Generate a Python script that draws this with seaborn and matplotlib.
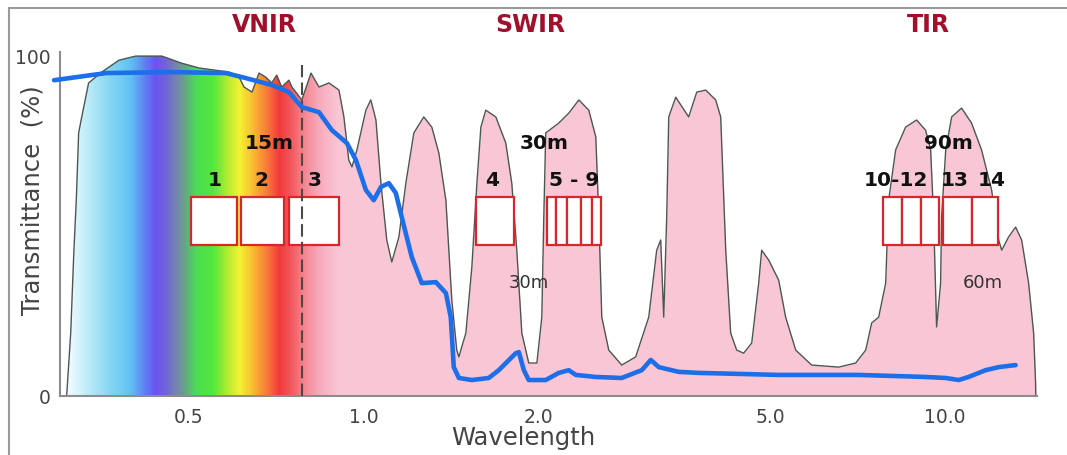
import numpy as np
import matplotlib
matplotlib.use("Agg")
import matplotlib.pyplot as plt
from matplotlib.colors import LinearSegmentedColormap
from matplotlib.patches import Rectangle
from matplotlib.lines import Line2D
import seaborn as sns

# atmospheric transmittance (wavelength in um, %)
trans_wl = [0.308, 0.313, 0.317, 0.320, 0.323, 0.327, 0.336, 0.354, 0.379, 0.405,
            0.449, 0.486, 0.520, 0.586, 0.610, 0.622, 0.642, 0.660, 0.678, 0.694,
            0.708, 0.722, 0.743, 0.752, 0.782, 0.811, 0.837, 0.871, 0.906, 0.924,
            0.942, 0.954, 0.973, 1.008, 1.028, 1.049, 1.070, 1.095, 1.117, 1.149,
            1.181, 1.219, 1.268, 1.309, 1.346, 1.384, 1.417, 1.445, 1.457, 1.498,
            1.534, 1.565, 1.590, 1.621, 1.687, 1.755, 1.797, 1.833, 1.870, 1.922,
            1.985, 2.024, 2.040, 2.056, 2.165, 2.252, 2.344, 2.438, 2.507, 2.537,
            2.567, 2.639, 2.778, 2.936, 3.092, 3.191, 3.242, 3.281, 3.320, 3.347,
            3.441, 3.622, 3.740, 3.875, 4.031, 4.112, 4.195, 4.278, 4.381, 4.504,
            4.650, 4.780, 4.837, 4.973, 5.174, 5.319, 5.536, 5.897, 6.563, 7.020,
            7.305, 7.480, 7.690, 7.906, 8.000, 8.225, 8.556, 8.938, 9.261, 9.448,
            9.560, 9.674, 9.828, 9.867, 10.03, 10.27, 10.68, 11.11, 11.56, 12.03,
            12.37, 12.52, 12.87, 13.23, 13.55, 13.93, 14.21, 14.32, 14.33]
trans_pct = [0, 18.5, 42.9, 57.6, 77.4, 82.1, 92.1, 95.3, 98.8, 100,
             100, 97.9, 96.5, 95.3, 93.8, 90.9, 89.4, 95.0, 93.8, 92.1,
             94.4, 90.9, 92.9, 90.9, 87.1, 95.0, 90.9, 92.1, 90.0, 82.1,
             69.4, 67.4, 72.4, 84.1, 87.1, 81.2, 62.6, 45.9, 39.4, 46.8,
             62.6, 77.4, 82.1, 79.1, 71.5, 57.6, 28.2, 13.5, 11.5, 18.5,
             37.9, 62.6, 79.1, 84.1, 82.1, 74.4, 62.6, 42.9, 18.5, 9.7,
             9.7, 23.2, 52.6, 77.4, 80.3, 83.2, 87.1, 84.1, 76.2, 52.6,
             23.2, 13.5, 9.1, 11.5, 23.2, 42.9, 45.9, 23.2, 52.6, 82.1,
             87.9, 82.1, 89.4, 90.0, 87.1, 82.1, 42.9, 18.5, 13.5, 12.6,
             15.6, 33.2, 42.9, 40.0, 34.1, 23.2, 13.5, 9.1, 8.5, 9.7,
             13.5, 21.5, 23.2, 33.2, 57.6, 72.4, 79.1, 81.2, 78.2, 72.4,
             52.6, 20.3, 33.2, 52.6, 72.4, 82.1, 84.7, 80.3, 72.4, 60.6,
             45.9, 42.9, 46.8, 49.7, 45.9, 33.2, 18.5, 3.8, 0]

# blue spectrum curve
curve_wl = [0.293, 0.360, 0.467, 0.579, 0.627, 0.694, 0.743, 0.782, 0.837, 0.881,
            0.935, 0.969, 1.008, 1.040, 1.070, 1.104, 1.135, 1.162, 1.209, 1.258,
            1.330, 1.384, 1.411, 1.428, 1.457, 1.534, 1.640, 1.707, 1.826, 1.848,
            1.885, 1.922, 2.056, 2.165, 2.252, 2.316, 2.507, 2.778, 3.008, 3.117,
            3.217, 3.482, 3.769, 5.174, 7.104, 9.261, 10.03, 10.56, 10.98, 11.75,
            12.37, 13.23]
curve_pct = [92.9, 95.0, 95.3, 95.0, 93.5, 91.5, 89.4, 85.0, 83.5, 78.2,
             74.4, 69.4, 60.6, 57.6, 61.5, 62.6, 59.7, 52.6, 40.9, 33.2,
             33.5, 30.3, 23.2, 8.5, 5.3, 4.7, 5.3, 7.6, 12.6, 12.9,
             7.6, 4.7, 4.7, 6.8, 7.6, 6.2, 5.6, 5.3, 7.6, 10.6,
             8.5, 7.1, 6.8, 6.2, 6.2, 5.6, 5.3, 4.7, 5.6, 7.6,
             8.5, 9.1]

# visible colour band under the transmittance curve
spectrum_wl = [0.308, 0.330, 0.364, 0.395, 0.415, 0.437, 0.455, 0.475, 0.497, 0.515,
               0.550, 0.585, 0.612, 0.650, 0.690, 0.716, 0.752, 0.790, 0.840, 0.906]
spectrum_colors = ['#f4fcfe', '#c6eef9', '#86d8f3', '#62c2f2', '#5c8ef2', '#6a52f0',
                   '#6f62dc', '#7484ae', '#5fb07a', '#4cdb55', '#52e83c', '#b6ec30',
                   '#f4f232', '#f8b232', '#f86a3c', '#f03a3a', '#f25a5e', '#f4848f',
                   '#f7aabb', '#f9c6d6']

# ASTER bands
vnir_cells = [(0.504, 0.604), (0.614, 0.728), (0.743, 0.906)]
swir4_edges = [1.558, 1.811]
swir59_edges = [2.065, 2.139, 2.235, 2.362, 2.467, 2.557]
tir1012_edges = [7.82, 8.43, 9.09, 9.77]
tir1314_edges = [9.92, 11.13, 12.34]

band_labels = ['1', '2', '3', '4', '5 - 9', '10-12', '13', '14']
band_label_wl = [0.554, 0.667, 0.824, 1.660, 2.297, 8.22, 10.39, 12.03]

res_labels = ['15m', '30m', '90m']
res_label_wl = [0.686, 2.040, 10.15]
res2_labels = ['30m', '60m']
res2_label_wl = [1.922, 11.61]

region_labels = ['VNIR', 'SWIR', 'TIR']
region_wl = [0.675, 1.937, 9.37]

vnir_split_wl = 0.782

pink = '#f9c6d6'
box_lo, box_hi = 44.5, 58.4

sns.set_style('white')
plt.rcParams['font.family'] = ['DejaVu Sans']

fig = plt.figure(figsize=(10.67, 4.55), dpi=100)
ax = fig.add_axes([60 / 1067, 59 / 455, 977 / 1067, 344 / 455])
ax.set_xscale('log')
ax.set_xlim(0.3, 14.4)
ax.set_ylim(0, 101.2)

# pink transmittance fill and rainbow part
poly = ax.fill_between(trans_wl, trans_pct, 0, color=pink, lw=0, zorder=1)
clip = poly.get_paths()[0]
lw_log = np.log(spectrum_wl)
pos = (lw_log - lw_log[0]) / (lw_log[-1] - lw_log[0])
cmap = LinearSegmentedColormap.from_list('spec', list(zip(pos, spectrum_colors)))
xe = np.geomspace(spectrum_wl[0], spectrum_wl[-1], 400)
xc = np.log(np.sqrt(xe[:-1] * xe[1:]))
cval = (xc - lw_log[0]) / (lw_log[-1] - lw_log[0])
mesh = ax.pcolormesh(xe, [0, 101], cval[None, :], cmap=cmap, vmin=0, vmax=1,
                     shading='flat', zorder=1.5, rasterized=True)
mesh.set_clip_path(clip, ax.transData)

sns.lineplot(x=trans_wl, y=trans_pct, ax=ax, color='#4d5752', lw=1.0,
             estimator=None, sort=False, zorder=2)

# band boxes
cells = list(vnir_cells)
for edges in [swir4_edges, swir59_edges, tir1012_edges, tir1314_edges]:
    cells += list(zip(edges[:-1], edges[1:]))
for l, r in cells:
    ax.add_patch(Rectangle((l, box_lo), r - l, box_hi - box_lo, facecolor='white',
                           edgecolor='#d9262b', lw=1.6, zorder=3))

ax.axvline(vnir_split_wl, ymin=0, ymax=97.4 / 101.2, color='#4a4a4a', lw=1.5,
           ls=(0, (6, 2.5)), zorder=3.5)

sns.lineplot(x=curve_wl, y=curve_pct, ax=ax, color='#1d6fe9', lw=3.3,
             estimator=None, sort=False, zorder=4)
ax.lines[-1].set_clip_on(False)
ax.lines[-1].set_solid_capstyle('round')

for t, x in zip(band_labels, band_label_wl):
    ax.text(x, 63.5, t, ha='center', va='center', fontsize=14.5, fontweight='bold',
            color='#111111', zorder=5)
for t, x in zip(res_labels, res_label_wl):
    ax.text(x, 74.4, t, ha='center', va='center', fontsize=14.5, fontweight='bold',
            color='#111111', zorder=5)
for t, x in zip(res2_labels, res2_label_wl):
    ax.text(x, 33.3, t, ha='center', va='center', fontsize=13,
            color='#333333', zorder=5)
for t, x in zip(region_labels, region_wl):
    ax.text(x, 109, t, ha='center', va='center', fontsize=17, fontweight='bold',
            color='#a0102a', zorder=5)

# axes styling
ax.set_xticks([1, 10], labels=['1.0', '10.0'])
minor = [0.4, 0.5, 0.6, 0.7, 0.8, 0.9, 2, 3, 4, 5, 6, 7, 8, 9]
minor_lab = ['0.5' if m == 0.5 else '2.0' if m == 2 else '5.0' if m == 5 else '' for m in minor]
ax.set_xticks(minor, labels=minor_lab, minor=True)
ax.tick_params(axis='x', which='both', direction='in', color='#555555', width=1.2,
               labelsize=13.5, labelcolor='#444444', pad=8.5)
ax.tick_params(axis='x', which='major', length=11)
ax.tick_params(axis='x', which='minor', length=4)
ax.set_yticks([0, 100], labels=['0', '100'])
ax.tick_params(axis='y', length=0, pad=7, labelsize=13.5, labelcolor='#444444')
for s in ['top', 'right']:
    ax.spines[s].set_visible(False)
for s in ['left', 'bottom']:
    ax.spines[s].set_color('#8c8c8c')
    ax.spines[s].set_linewidth(1.5)
ax.set_facecolor('none')

ax.set_xlabel('Wavelength', fontsize=17.5, color='#444444')
ax.xaxis.set_label_coords(0.474, -0.122)
ax.xaxis.label.set_va('center')
ax.set_ylabel('Transmittance  (%)', fontsize=17.5, color='#444444')
ax.yaxis.set_label_coords(-0.028, 0.57)
ax.yaxis.label.set_va('center')

# page frame
fig.add_artist(Line2D([9 / 1067, 1], [1 - 8 / 455, 1 - 8 / 455], color='#9a9a9a', lw=1.5))
fig.add_artist(Line2D([9 / 1067, 9 / 1067], [0, 1 - 8 / 455], color='#9a9a9a', lw=1.5))

fig.savefig('out.png', dpi=100, facecolor='white')
